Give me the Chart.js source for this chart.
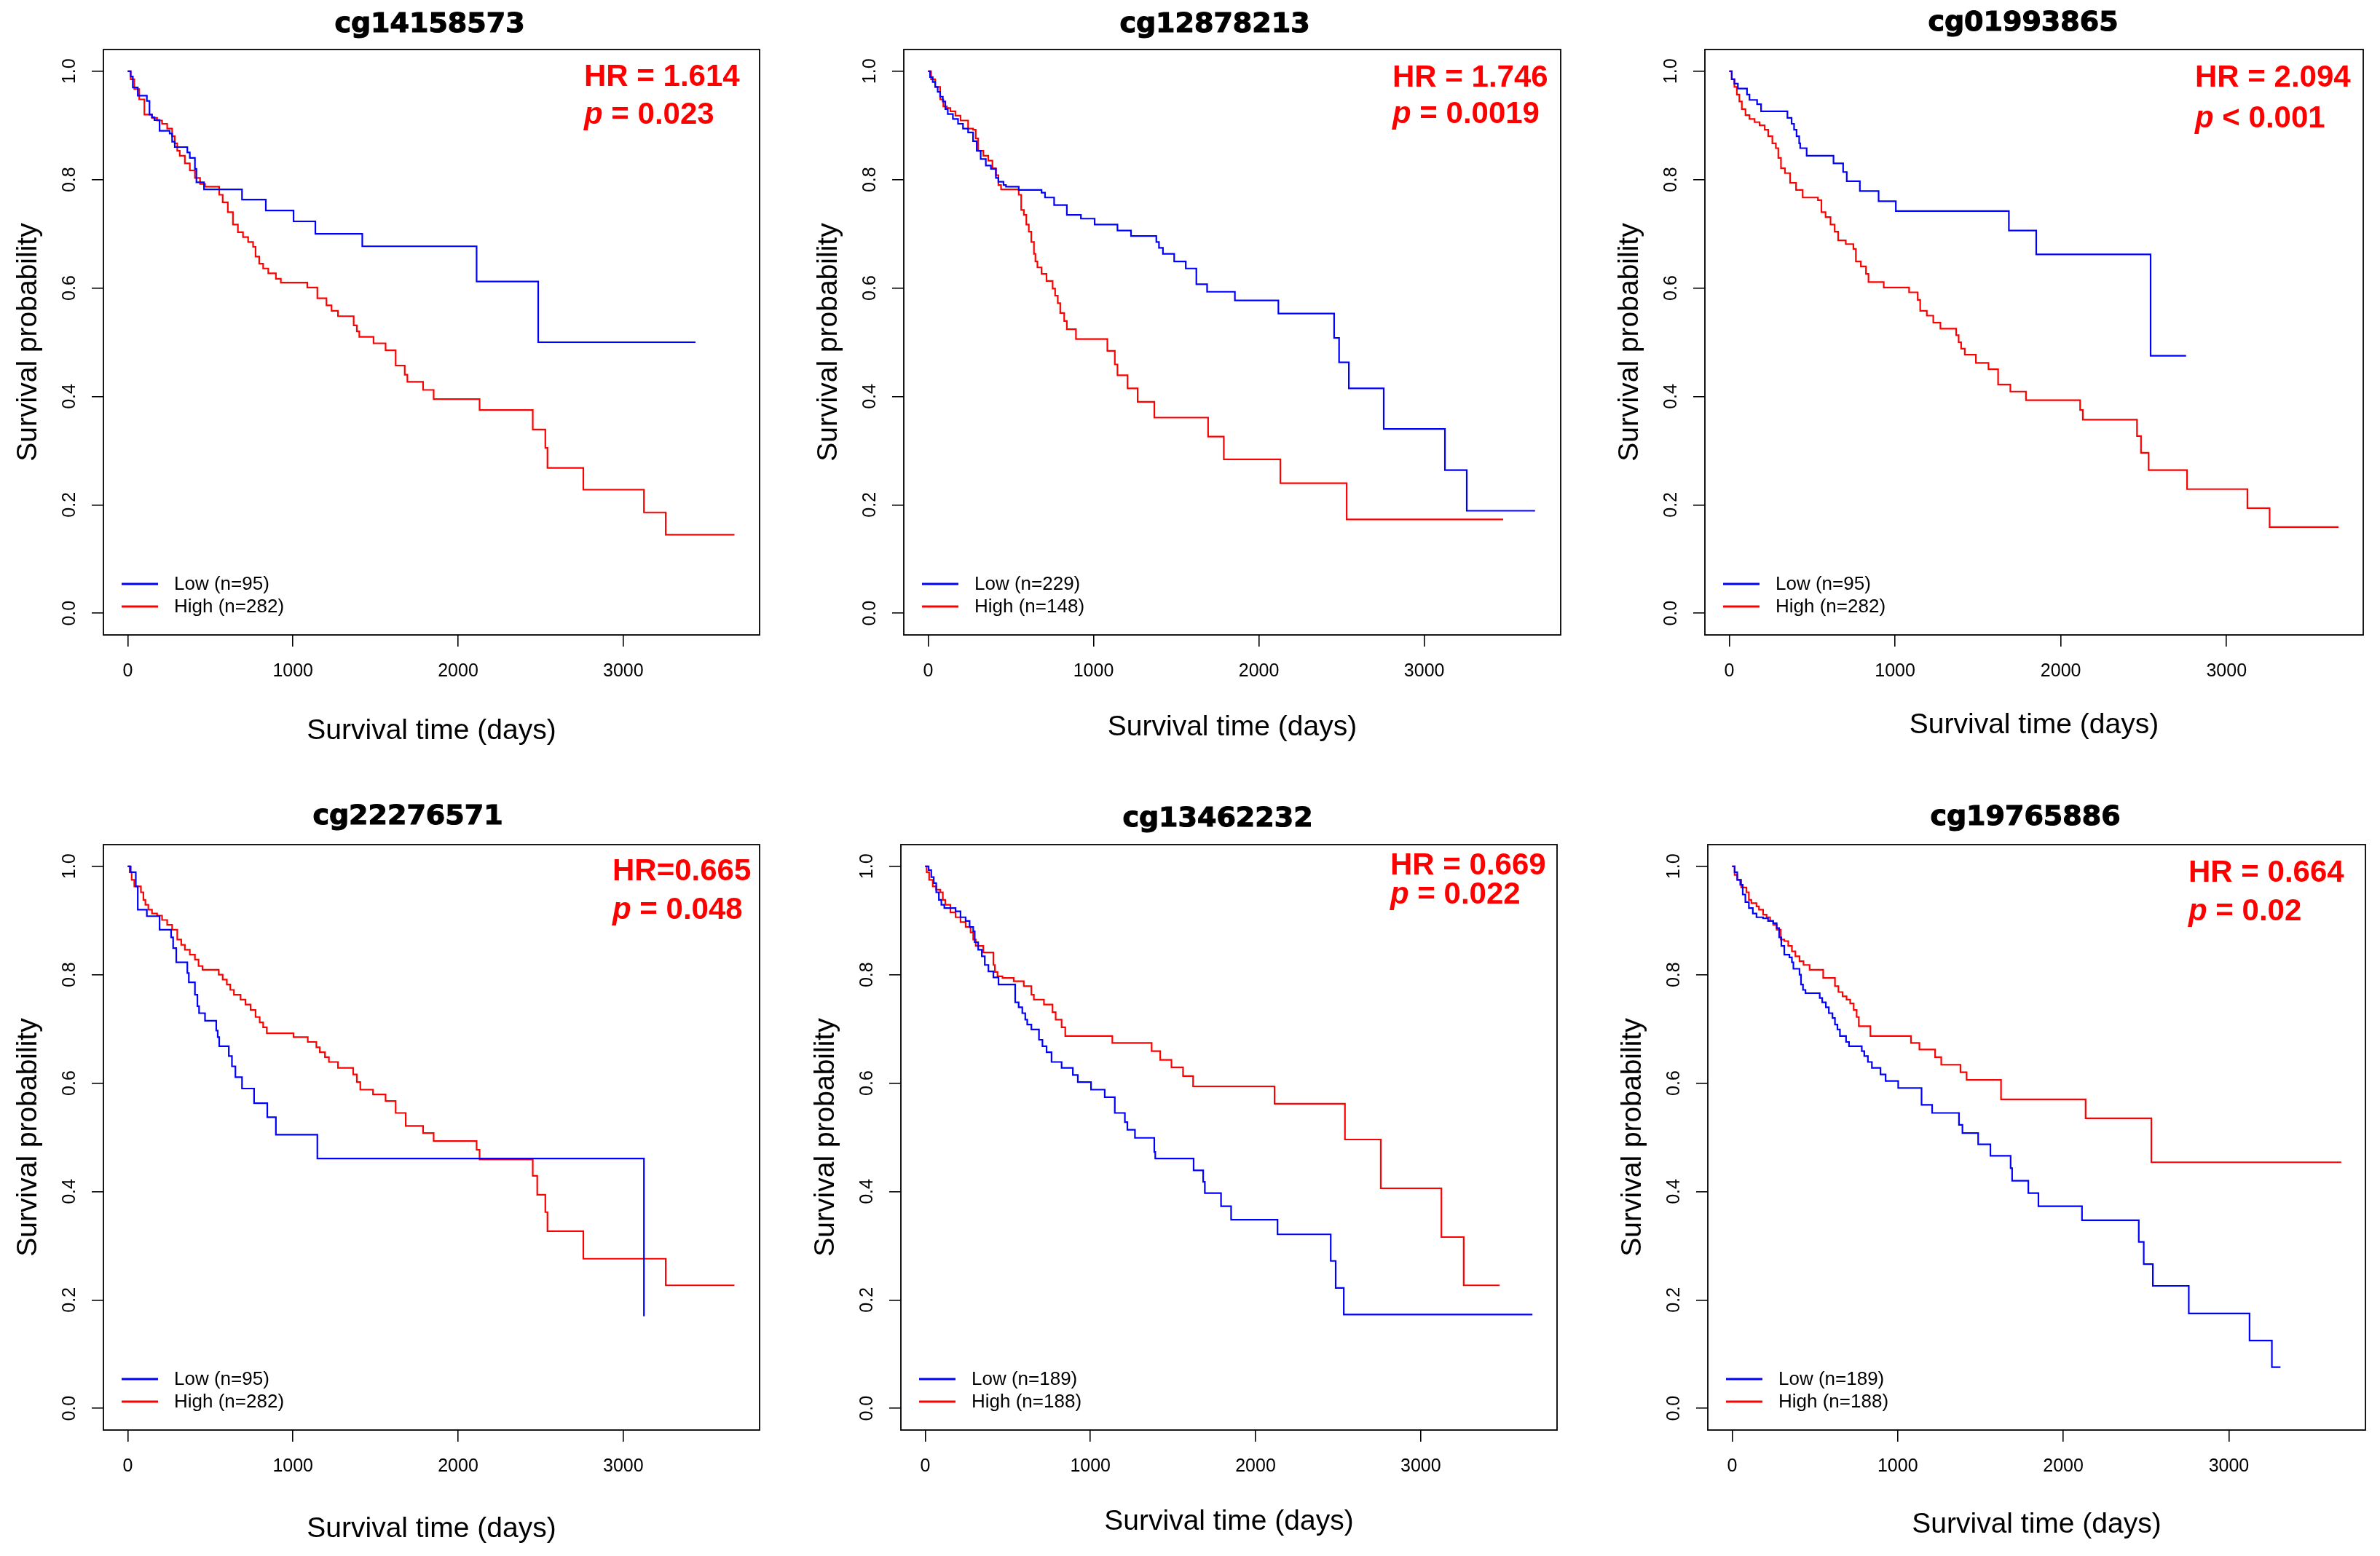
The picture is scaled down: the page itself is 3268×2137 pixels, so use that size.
<!DOCTYPE html>
<html>
<head>
<meta charset="utf-8">
<script src="https://cdn.jsdelivr.net/npm/chart.js@4/dist/chart.umd.min.js"></script>
<style>
html, body { margin: 0; padding: 0; background: #fff; overflow: hidden; }
body { width: 3268px; height: 2137px; position: relative; }
canvas { position: absolute; }
</style>
</head>
<body>
<script>
// ---- data ----
const titles = ['cg14158573', 'cg12878213', 'cg01993865', 'cg22276571', 'cg13462232', 'cg19765886']
const lowLabels = ['Low (n=95)', 'Low (n=229)', 'Low (n=95)', 'Low (n=95)', 'Low (n=189)', 'Low (n=189)']
const highLabels = ['High (n=282)', 'High (n=148)', 'High (n=282)', 'High (n=282)', 'High (n=188)', 'High (n=188)']
const hrText = ['HR = 1.614', 'HR = 1.746', 'HR = 2.094', 'HR=0.665', 'HR = 0.669', 'HR = 0.664']
const pText = ['= 0.023', '= 0.0019', '< 0.001', '= 0.048', '= 0.022', '= 0.02']
const xTicks = [0, 1000, 2000, 3000]
const yTicks = [0.0, 0.2, 0.4, 0.6, 0.8, 1.0]

const p1LowTime = [0, 18, 31, 61, 116, 132, 147, 162, 193, 254, 269, 285, 361, 376, 407, 416, 462, 692, 836, 1004, 1136, 1420, 2112, 2485, 3437]
const p1LowSurv = [1.0, 0.99, 0.97, 0.955, 0.945, 0.92, 0.915, 0.91, 0.89, 0.885, 0.87, 0.86, 0.85, 0.84, 0.82, 0.795, 0.782, 0.763, 0.743, 0.723, 0.70, 0.677, 0.612, 0.50, 0.50]
const p1HighTime = [0, 18, 40, 70, 101, 147, 178, 208, 239, 269, 285, 300, 315, 346, 376, 407, 438, 468, 554, 575, 606, 637, 667, 698, 729, 759, 774, 796, 820, 851, 897, 927, 1087, 1148, 1203, 1234, 1273, 1368, 1387, 1402, 1488, 1561, 1622, 1677, 1693, 1788, 1852, 2130, 2452, 2528, 2541, 2758, 3125, 3257, 3673]
const p1HighSurv = [1.0, 0.985, 0.967, 0.948, 0.92, 0.914, 0.909, 0.903, 0.894, 0.88, 0.867, 0.853, 0.844, 0.83, 0.817, 0.803, 0.792, 0.787, 0.772, 0.758, 0.74, 0.717, 0.703, 0.694, 0.685, 0.676, 0.658, 0.645, 0.636, 0.627, 0.617, 0.61, 0.601, 0.581, 0.568, 0.558, 0.548, 0.531, 0.52, 0.51, 0.498, 0.485, 0.457, 0.44, 0.427, 0.412, 0.395, 0.375, 0.339, 0.305, 0.268, 0.228, 0.186, 0.145, 0.145]

const p2LowTime = [0, 12, 28, 43, 58, 73, 89, 104, 119, 150, 181, 211, 242, 272, 294, 318, 349, 380, 410, 425, 456, 471, 548, 686, 707, 762, 839, 924, 1007, 1145, 1227, 1380, 1396, 1420, 1488, 1558, 1622, 1687, 1855, 2118, 2455, 2485, 2544, 2755, 3125, 3257, 3670]
const p2LowSurv = [1.0, 0.989, 0.98, 0.971, 0.962, 0.953, 0.944, 0.93, 0.921, 0.912, 0.903, 0.894, 0.887, 0.871, 0.853, 0.838, 0.826, 0.82, 0.803, 0.796, 0.79, 0.787, 0.781, 0.776, 0.767, 0.753, 0.735, 0.728, 0.717, 0.706, 0.696, 0.685, 0.674, 0.663, 0.649, 0.636, 0.607, 0.593, 0.577, 0.553, 0.508, 0.463, 0.415, 0.34, 0.264, 0.189, 0.189]
const p2HighTime = [0, 18, 43, 73, 92, 113, 135, 165, 196, 242, 272, 288, 303, 334, 364, 389, 410, 425, 441, 548, 563, 579, 594, 609, 624, 640, 649, 661, 686, 716, 753, 768, 784, 799, 823, 839, 894, 1084, 1129, 1145, 1206, 1267, 1368, 1693, 1788, 2130, 2531, 3477]
const p2HighSurv = [1.0, 0.985, 0.971, 0.948, 0.935, 0.932, 0.926, 0.918, 0.909, 0.894, 0.892, 0.876, 0.853, 0.844, 0.835, 0.821, 0.808, 0.79, 0.782, 0.772, 0.744, 0.735, 0.717, 0.704, 0.685, 0.663, 0.649, 0.638, 0.626, 0.613, 0.599, 0.586, 0.572, 0.554, 0.539, 0.524, 0.506, 0.484, 0.459, 0.439, 0.415, 0.39, 0.361, 0.326, 0.284, 0.24, 0.173, 0.173]

const p3LowTime = [0, 15, 31, 52, 107, 122, 168, 192, 351, 376, 391, 406, 422, 428, 467, 629, 687, 709, 788, 901, 1005, 1687, 1852, 2542, 2756]
const p3LowSurv = [1.0, 0.985, 0.977, 0.968, 0.957, 0.947, 0.939, 0.926, 0.914, 0.903, 0.892, 0.88, 0.867, 0.858, 0.844, 0.83, 0.814, 0.797, 0.779, 0.76, 0.742, 0.706, 0.662, 0.475, 0.475]
const p3HighTime = [0, 15, 31, 46, 61, 76, 98, 122, 153, 183, 214, 235, 260, 281, 296, 312, 336, 367, 403, 443, 535, 556, 581, 611, 636, 657, 703, 749, 764, 794, 825, 840, 932, 1085, 1137, 1152, 1192, 1231, 1274, 1369, 1384, 1399, 1421, 1488, 1564, 1622, 1696, 1790, 2117, 2133, 2460, 2484, 2530, 2762, 3126, 3260, 3676]
const p3HighSurv = [1.0, 0.985, 0.971, 0.957, 0.944, 0.93, 0.919, 0.912, 0.906, 0.9, 0.892, 0.88, 0.867, 0.858, 0.84, 0.821, 0.812, 0.794, 0.781, 0.767, 0.762, 0.74, 0.731, 0.717, 0.704, 0.688, 0.681, 0.672, 0.649, 0.64, 0.626, 0.611, 0.601, 0.592, 0.578, 0.558, 0.549, 0.536, 0.525, 0.513, 0.5, 0.488, 0.477, 0.462, 0.45, 0.422, 0.409, 0.393, 0.375, 0.357, 0.327, 0.296, 0.264, 0.229, 0.194, 0.159, 0.159]

const p4LowTime = [0, 18, 49, 61, 116, 193, 263, 275, 294, 361, 370, 407, 422, 432, 468, 536, 545, 554, 612, 631, 652, 692, 765, 845, 897, 1148, 3125]
const p4LowSurv = [1.0, 0.989, 0.963, 0.92, 0.908, 0.883, 0.869, 0.849, 0.823, 0.803, 0.786, 0.763, 0.742, 0.729, 0.715, 0.697, 0.685, 0.668, 0.65, 0.631, 0.611, 0.59, 0.563, 0.537, 0.505, 0.461, 0.17]
const p4HighTime = [0, 12, 24, 40, 80, 95, 107, 125, 147, 178, 208, 239, 269, 300, 324, 346, 376, 407, 429, 453, 551, 575, 600, 621, 643, 683, 713, 744, 774, 799, 820, 842, 1004, 1090, 1142, 1163, 1194, 1218, 1273, 1365, 1387, 1408, 1485, 1561, 1622, 1683, 1788, 1852, 2112, 2130, 2452, 2479, 2528, 2541, 2758, 3257, 3673]
const p4HighSurv = [1.0, 0.989, 0.975, 0.963, 0.952, 0.938, 0.929, 0.92, 0.913, 0.909, 0.901, 0.892, 0.883, 0.865, 0.855, 0.846, 0.837, 0.828, 0.816, 0.809, 0.8, 0.791, 0.782, 0.772, 0.763, 0.754, 0.745, 0.735, 0.722, 0.712, 0.703, 0.692, 0.685, 0.676, 0.666, 0.657, 0.648, 0.639, 0.628, 0.616, 0.602, 0.588, 0.579, 0.567, 0.545, 0.521, 0.508, 0.493, 0.477, 0.459, 0.429, 0.394, 0.362, 0.327, 0.276, 0.227, 0.227]

const p5LowTime = [0, 21, 37, 52, 67, 83, 98, 116, 184, 214, 245, 269, 291, 300, 321, 343, 361, 383, 413, 444, 545, 566, 588, 606, 618, 643, 689, 710, 735, 765, 826, 894, 924, 1004, 1087, 1148, 1209, 1224, 1270, 1387, 1393, 1625, 1683, 1693, 1791, 1852, 2133, 2455, 2485, 2534, 3676]
const p5LowSurv = [1.0, 0.993, 0.98, 0.969, 0.952, 0.938, 0.929, 0.923, 0.917, 0.906, 0.899, 0.888, 0.88, 0.86, 0.846, 0.834, 0.818, 0.806, 0.795, 0.782, 0.749, 0.74, 0.729, 0.717, 0.708, 0.699, 0.68, 0.668, 0.657, 0.639, 0.628, 0.615, 0.602, 0.588, 0.574, 0.545, 0.528, 0.514, 0.499, 0.473, 0.461, 0.439, 0.418, 0.397, 0.373, 0.348, 0.321, 0.272, 0.222, 0.173, 0.173]
const p5HighTime = [0, 9, 24, 46, 67, 92, 107, 122, 153, 184, 214, 245, 275, 291, 306, 352, 413, 422, 438, 468, 536, 597, 643, 658, 719, 771, 790, 826, 848, 1133, 1371, 1423, 1491, 1561, 1622, 2115, 2541, 2758, 3125, 3260, 3477]
const p5HighSurv = [1.0, 0.989, 0.975, 0.963, 0.957, 0.952, 0.938, 0.929, 0.915, 0.906, 0.897, 0.888, 0.878, 0.865, 0.853, 0.841, 0.818, 0.805, 0.797, 0.794, 0.788, 0.779, 0.763, 0.754, 0.745, 0.731, 0.717, 0.703, 0.687, 0.674, 0.659, 0.643, 0.629, 0.613, 0.594, 0.562, 0.496, 0.406, 0.316, 0.227, 0.227]

const p6LowTime = [0, 15, 31, 49, 64, 80, 101, 125, 147, 187, 217, 248, 269, 284, 297, 315, 346, 361, 370, 407, 416, 428, 443, 529, 544, 566, 584, 606, 621, 636, 651, 688, 706, 783, 798, 820, 844, 896, 927, 1003, 1144, 1208, 1370, 1391, 1486, 1560, 1682, 1691, 1789, 1850, 2113, 2456, 2486, 2541, 2758, 3125, 3260, 3312]
const p6LowSurv = [1.0, 0.989, 0.975, 0.966, 0.948, 0.934, 0.923, 0.913, 0.906, 0.904, 0.899, 0.895, 0.886, 0.869, 0.853, 0.837, 0.832, 0.823, 0.811, 0.8, 0.782, 0.772, 0.766, 0.757, 0.749, 0.74, 0.729, 0.72, 0.708, 0.699, 0.687, 0.676, 0.668, 0.659, 0.65, 0.639, 0.628, 0.616, 0.604, 0.591, 0.56, 0.545, 0.523, 0.508, 0.487, 0.466, 0.443, 0.42, 0.397, 0.373, 0.347, 0.307, 0.266, 0.226, 0.175, 0.125, 0.076, 0.076]
const p6HighTime = [0, 15, 31, 55, 86, 101, 116, 147, 162, 187, 208, 229, 248, 269, 294, 315, 339, 361, 382, 407, 431, 468, 550, 621, 642, 667, 691, 713, 734, 752, 765, 835, 1080, 1131, 1226, 1263, 1379, 1416, 1624, 2135, 2532, 3679]
const p6HighSurv = [1.0, 0.984, 0.975, 0.961, 0.952, 0.938, 0.932, 0.926, 0.92, 0.911, 0.906, 0.899, 0.892, 0.883, 0.865, 0.862, 0.853, 0.843, 0.834, 0.825, 0.818, 0.809, 0.794, 0.779, 0.768, 0.76, 0.754, 0.747, 0.735, 0.722, 0.705, 0.687, 0.674, 0.662, 0.648, 0.634, 0.62, 0.606, 0.57, 0.535, 0.454, 0.454]

const lowTimes = [p1LowTime, p2LowTime, p3LowTime, p4LowTime, p5LowTime, p6LowTime]
const lowSurvs = [p1LowSurv, p2LowSurv, p3LowSurv, p4LowSurv, p5LowSurv, p6LowSurv]
const highTimes = [p1HighTime, p2HighTime, p3HighTime, p4HighTime, p5HighTime, p6HighTime]
const highSurvs = [p1HighSurv, p2HighSurv, p3HighSurv, p4HighSurv, p5HighSurv, p6HighSurv]

// ---- layout (page pixels) ----
// plot box [left, right, top, bottom]
const boxes = [
    [142, 1043, 68, 872], [1241, 2143, 68, 872], [2341, 3245, 68, 872],
    [142, 1043, 1160, 1964], [1237, 2138, 1160, 1964], [2345, 3248, 1160, 1964]
]
const titlePos = [[590, 34], [1668, 34], [2778, 32], [560, 1122], [1672, 1125], [2781, 1123]]
// HR/p text: x offset from box left, baselines from box top
const statPos = [[660, 50, 102], [671, 51, 101], [673, 51, 107], [699, 49, 102], [672, 41, 81], [660, 51, 104]]
const xTitleOff = [132, 127, 124, 136, 126, 130]

const FONT = '"Liberation Sans", Arial, Helvetica, sans-serif'
const PAD_L = 142, PAD_T = 68, PAD_R = 45, PAD_B = 170

Chart.defaults.font.family = FONT
Chart.defaults.color = '#000'

function toXY(t, s){
    return t.map((x, i) => ({x: x, y: s[i]}))
}

function makePanel(i){
    const [L, R, T, B] = boxes[i]
    const left = L - PAD_L, top = T - PAD_T
    const w = R - L + PAD_L + PAD_R, h = B - T + PAD_T + PAD_B

    const cv = document.createElement('canvas')
    cv.width = w
    cv.height = h
    cv.style.left = left + 'px'
    cv.style.top = top + 'px'
    cv.style.width = w + 'px'
    cv.style.height = h + 'px'
    document.body.appendChild(cv)

    // box, title, legend and HR text in R style
    const decor = {
        id: 'decor' + i,
        afterDraw(chart){
            const ctx = chart.ctx
            const a = chart.chartArea
            ctx.save()
            ctx.strokeStyle = '#000'
            ctx.lineWidth = 1.8
            ctx.strokeRect(a.left, a.top, a.right - a.left, a.bottom - a.top)

            ctx.fillStyle = '#000'
            ctx.strokeStyle = '#000'
            ctx.lineWidth = 1.2
            ctx.font = 'bold 38px "DejaVu Sans", sans-serif'
            ctx.textAlign = 'center'
            ctx.textBaseline = 'middle'
            ctx.fillText(titles[i], titlePos[i][0] - left, titlePos[i][1] - top)
            ctx.strokeText(titles[i], titlePos[i][0] - left, titlePos[i][1] - top)

            // legend
            const ds = chart.data.datasets
            ctx.font = '26px ' + FONT
            ctx.textAlign = 'left'
            ds.forEach((d, k) => {
                const y = a.bottom - 70 + k * 31
                ctx.strokeStyle = d.borderColor
                ctx.lineWidth = 3
                ctx.beginPath()
                ctx.moveTo(a.left + 25, y)
                ctx.lineTo(a.left + 75, y)
                ctx.stroke()
                ctx.fillStyle = '#000'
                ctx.fillText(d.label, a.left + 97, y + 1)
            })

            // HR and p
            const sx = a.left + statPos[i][0]
            ctx.fillStyle = '#ff0000'
            ctx.textBaseline = 'alphabetic'
            ctx.font = 'bold 42px ' + FONT
            ctx.fillText(hrText[i], sx, a.top + statPos[i][1])
            ctx.font = 'italic bold 42px ' + FONT
            ctx.fillText('p', sx, a.top + statPos[i][2])
            const pw = ctx.measureText('p').width
            ctx.font = 'bold 42px ' + FONT
            ctx.fillText(' ' + pText[i], sx + pw, a.top + statPos[i][2])
            ctx.restore()
        }
    }

    return new Chart(cv.getContext('2d'), {
        type: 'line',
        data: {
            datasets: [{
                label: lowLabels[i],
                data: toXY(lowTimes[i], lowSurvs[i]),
                borderColor: '#0000ff',
            }, {
                label: highLabels[i],
                data: toXY(highTimes[i], highSurvs[i]),
                borderColor: '#ff0000',
            }]
        },
        options: {
            responsive: false,
            animation: false,
            devicePixelRatio: 1,
            layout: {
                padding: {left: 0, top: PAD_T, right: PAD_R, bottom: 0}
            },
            elements: {
                line: {borderWidth: 2.2, stepped: 'before', tension: 0},
                point: {radius: 0}
            },
            plugins: {
                legend: {display: false},
                tooltip: {enabled: false}
            },
            scales: {
                x: {
                    type: 'linear',
                    min: -147,
                    max: 3825,
                    afterFit: s => { s.height = PAD_B },
                    afterBuildTicks: s => { s.ticks = xTicks.map(v => ({value: v})) },
                    border: {display: false},
                    grid: {drawOnChartArea: false, drawTicks: true, tickLength: 16, color: '#000', lineWidth: 1.6},
                    ticks: {
                        font: {size: 25},
                        color: '#000',
                        padding: 19,
                        maxRotation: 0,
                        autoSkip: false,
                        callback: v => String(v)
                    },
                    title: {
                        display: true,
                        text: 'Survival time (days)',
                        color: '#000',
                        font: {size: 39, lineHeight: 1},
                        padding: {top: 0, bottom: PAD_B - xTitleOff[i] - 19.5}
                    }
                },
                y: {
                    min: -0.04,
                    max: 1.04,
                    afterFit: s => { s.width = PAD_L },
                    afterBuildTicks: s => { s.ticks = yTicks.map(v => ({value: v})) },
                    border: {display: false},
                    grid: {drawOnChartArea: false, drawTicks: true, tickLength: 16, color: '#000', lineWidth: 1.6},
                    ticks: {
                        font: {size: 25},
                        color: '#000',
                        minRotation: 90,
                        maxRotation: 90,
                        crossAlign: 'center',
                        padding: 13,
                        autoSkip: false,
                        callback: v => Number(v).toFixed(1)
                    },
                    title: {
                        display: true,
                        text: 'Survival probability',
                        color: '#000',
                        font: {size: 39, lineHeight: 1},
                        padding: {top: 20, bottom: 0}
                    }
                }
            }
        },
        plugins: [decor]
    })
}

for (let i = 0; i < 6; i++) makePanel(i)
</script>
</body>
</html>
